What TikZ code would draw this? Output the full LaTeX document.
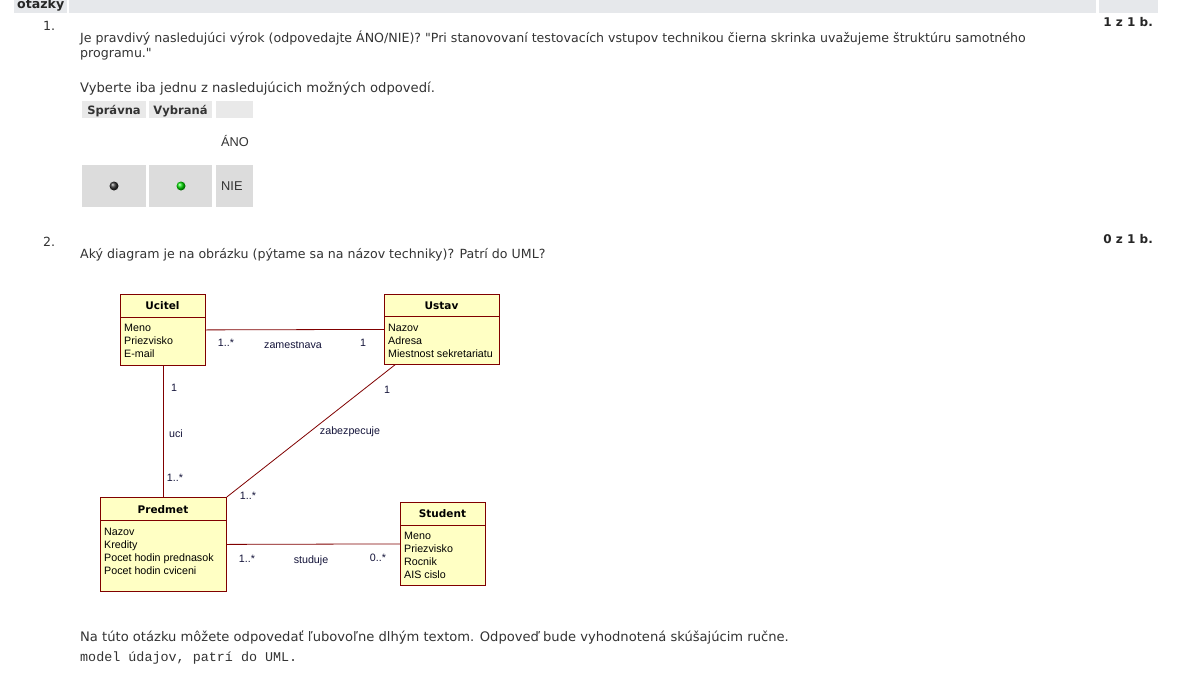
\documentclass[tikz,border=0pt]{standalone}
\usepackage{fontspec}
\setmainfont{DejaVu Sans}
\newfontfamily\webfont{DejaVu Sans}
\newfontfamily\umlfont{Liberation Sans}
\newfontfamily\webmono{Liberation Mono}
\definecolor{txtgray}{HTML}{333333}
\definecolor{bargray}{HTML}{E6E8EB}
\definecolor{headgray}{HTML}{E9E9E9}
\definecolor{cellgray}{HTML}{DCDCDC}
\definecolor{umlfill}{HTML}{FFFFC4}
\definecolor{umlline}{HTML}{800000}
\definecolor{multblue}{HTML}{14143A}
\tikzset{
	txt/.style={anchor=base west,inner sep=0,text=txtgray,font=\webfont\fontsize{12.6}{15}\selectfont},
	pts/.style={anchor=base east,inner sep=0,text=black!85,font=\webfont\bfseries\fontsize{12}{14}\selectfont},
	cls/.style={draw=umlline,fill=umlfill,line width=.8pt,inner sep=0,anchor=north west},
	clsname/.style={anchor=base,inner sep=0,font=\webfont\bfseries\fontsize{10.5}{12}\selectfont},
	attr/.style={anchor=base west,inner sep=0,font=\umlfont\fontsize{10.7}{12}\selectfont},
	assoc/.style={draw=umlline,line width=.8pt},
	mult/.style={anchor=base,inner sep=0,text=multblue,font=\umlfont\fontsize{10.7}{12}\selectfont}
}
\begin{document}
\begin{tikzpicture}[x=1pt,y=-1pt]
	\useasboundingbox (0,0) rectangle (1190,677);
	\fill[white] (0,0) rectangle (1190,677);
	\fill[bargray] (14,0) rectangle (67,13);
	\fill[bargray] (69,0) rectangle (1096,13);
	\fill[bargray] (1099,0) rectangle (1158,13);
	\node[anchor=base west,inner sep=0,text=black!85,font=\webfont\bfseries\fontsize{12.6}{15}\selectfont] (hdr) at (17,9) {otazky};
	\node[txt] (q1no) at (43,31) {1.};
	\node[txt] (q1a) at (80,43) {Je pravdivý nasledujúci výrok (odpovedajte ÁNO/NIE)? "Pri stanovovaní testovacích vstupov technikou čierna skrinka uvažujeme štruktúru samotného};
	\node[txt] (q1b) at (80,58) {programu."};
	\node[pts] (q1pts) at (1153,27) {1 z 1 b.};
	\node[txt,font=\webfont\fontsize{13.15}{15}\selectfont] (q1c) at (80,92) {Vyberte iba jednu z nasledujúcich možných odpovedí.};
	\fill[headgray] (82,101) rectangle (146,118);
	\fill[headgray] (149,101) rectangle (212,118);
	\fill[headgray] (216,101) rectangle (253,118);
	\node[anchor=base,inner sep=0,text=txtgray,font=\webfont\bfseries\fontsize{11.5}{13}\selectfont] (hsp) at (114,114) {Správna};
	\node[anchor=base,inner sep=0,text=txtgray,font=\webfont\bfseries\fontsize{11.5}{13}\selectfont] (hvy) at (180.5,114) {Vybraná};
	\fill[cellgray] (82,165) rectangle (146,207);
	\fill[cellgray] (149,165) rectangle (212,207);
	\fill[cellgray] (216,165) rectangle (253,207);
	\node[anchor=base west,inner sep=0,text=txtgray,font=\umlfont\fontsize{12.8}{14}\selectfont] (ano) at (221,146.5) {ÁNO};
	\node[anchor=base west,inner sep=0,text=txtgray,font=\umlfont\fontsize{12.8}{14}\selectfont] (nie) at (221,190.5) {NIE};
	\shade[ball color=black!80] (114,186) circle (4.5);
	\shade[ball color=green!85!black] (181,186) circle (4.5);

	\node[txt] (q2no) at (43,246) {2.};
	\node[txt] (q2a) at (80,258) {Aký diagram je na obrázku (pýtame sa na názov techniky)? Patrí do UML?};
	\node[pts] (q2pts) at (1153,243.5) {0 z 1 b.};

	\node[cls,minimum width=85,minimum height=71] (ucitel) at (120,294) {};
	\node[cls,minimum width=115,minimum height=70] (ustav) at (384,294) {};
	\node[cls,minimum width=126,minimum height=94] (predmet) at (100,497) {};
	\node[cls,minimum width=85,minimum height=83] (student) at (400,502) {};
	\draw[umlline,line width=.8pt] ([yshift=-23]ucitel.north west) -- ([yshift=-23]ucitel.north east);
	\draw[umlline,line width=.8pt] ([yshift=-22]ustav.north west) -- ([yshift=-22]ustav.north east);
	\draw[umlline,line width=.8pt] ([yshift=-23]predmet.north west) -- ([yshift=-23]predmet.north east);
	\draw[umlline,line width=.8pt] ([yshift=-23]student.north west) -- ([yshift=-23]student.north east);
	\node[clsname] (ucitel-n) at (162.5,309) {Ucitel};
	\node[clsname] (ustav-n) at (441.5,309) {Ustav};
	\node[clsname] (predmet-n) at (163,513) {Predmet};
	\node[clsname] (student-n) at (442.5,517) {Student};
	\foreach \a [count=\i] in {Meno,Priezvisko,E-mail}
		\node[attr] (ucitel-\i) at (124,318+13*\i) {\a};
	\foreach \a [count=\i] in {Nazov,Adresa,Miestnost sekretariatu}
		\node[attr] (ustav-\i) at (388,318+13*\i) {\a};
	\foreach \a [count=\i] in {Nazov,Kredity,Pocet hodin prednasok,Pocet hodin cviceni}
		\node[attr] (predmet-\i) at (104,522+13*\i) {\a};
	\foreach \a [count=\i] in {Meno,Priezvisko,Rocnik,AIS cislo}
		\node[attr] (student-\i) at (404,526+13*\i) {\a};

	\draw[assoc] (ucitel.east) -- (ustav.west);
	\draw[assoc] (ucitel.south) -- (ucitel.south |- predmet.north);
	\draw[assoc] ([xshift=11]ustav.south west) -- (predmet.north east);
	\draw[assoc] (predmet.east) -- (student.west);
	\node[mult] (m1) at (226,346) {1..*};
	\node[mult] (m2) at (293,348) {zamestnava};
	\node[mult] (m3) at (363,346) {1};
	\node[mult] (m4) at (174,391) {1};
	\node[mult] (m5) at (176,437) {uci};
	\node[mult] (m6) at (175,481) {1..*};
	\node[mult] (m7) at (387,393) {1};
	\node[mult] (m8) at (350,434) {zabezpecuje};
	\node[mult] (m9) at (248,499) {1..*};
	\node[mult] (m10) at (247,562) {1..*};
	\node[mult] (m11) at (311,563) {studuje};
	\node[mult] (m12) at (378,561) {0..*};

	\node[txt,font=\webfont\fontsize{13.1}{15}\selectfont] (q2b) at (80,641) {Na túto otázku môžete odpovedať ľubovoľne dlhým textom. Odpoveď bude vyhodnotená skúšajúcim ručne.};
	\node[anchor=base west,inner sep=0,text=txtgray,font=\webmono\fontsize{13.4}{15}\selectfont] (ans) at (80,661) {model údajov, patrí do UML.};
\end{tikzpicture}
\end{document}
